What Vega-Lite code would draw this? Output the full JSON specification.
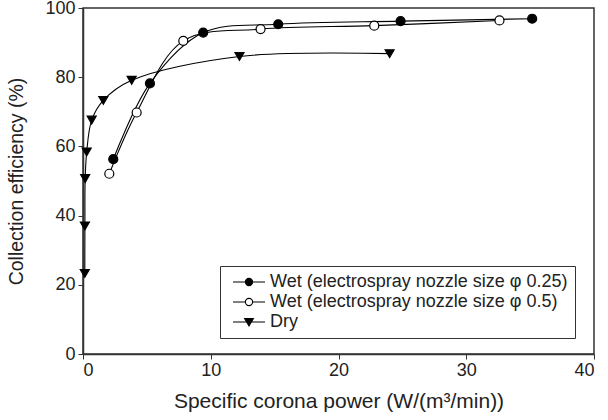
{
  "$schema": "https://vega.github.io/schema/vega-lite/v6.json",
  "width": 511,
  "height": 346,
  "autosize": {"type": "none"},
  "padding": {"left": 83, "top": 8, "right": 14, "bottom": 66},
  "background": "white",
  "config": {
    "font": "Liberation Sans",
    "view": {"stroke": "#333", "strokeWidth": 1.5},
    "axis": {
      "grid": false,
      "domainColor": "#333",
      "domainWidth": 1.5,
      "tickColor": "#333",
      "tickSize": 5,
      "labelFont": "Liberation Sans",
      "labelFontSize": 18,
      "labelColor": "#222",
      "titleFont": "Liberation Sans",
      "titleFontWeight": "normal",
      "titleColor": "#222"
    },
    "legend": {
      "orient": "none",
      "legendX": 137,
      "legendY": 258,
      "padding": 7,
      "strokeColor": "#333",
      "fillColor": "white",
      "cornerRadius": 0,
      "labelFont": "Liberation Sans",
      "labelFontSize": 18,
      "labelColor": "#222",
      "labelLimit": 450,
      "symbolSize": 64,
      "symbolStrokeWidth": 1.1,
      "symbolOffset": 13,
      "labelOffset": 12,
      "rowPadding": 2
    }
  },
  "data": {
    "values": [
      {"series": "Wet (electrospray nozzle size φ 0.25)", "i": 1, "x": 2.37, "y": 56.3},
      {"series": "Wet (electrospray nozzle size φ 0.25)", "i": 2, "x": 5.24, "y": 78.2},
      {"series": "Wet (electrospray nozzle size φ 0.25)", "i": 3, "x": 9.41, "y": 92.9},
      {"series": "Wet (electrospray nozzle size φ 0.25)", "i": 4, "x": 15.28, "y": 95.3},
      {"series": "Wet (electrospray nozzle size φ 0.25)", "i": 5, "x": 24.86, "y": 96.2},
      {"series": "Wet (electrospray nozzle size φ 0.25)", "i": 6, "x": 35.16, "y": 96.9},
      {"series": "Wet (electrospray nozzle size φ 0.5)", "i": 1, "x": 2.06, "y": 52.1},
      {"series": "Wet (electrospray nozzle size φ 0.5)", "i": 2, "x": 4.2, "y": 69.8},
      {"series": "Wet (electrospray nozzle size φ 0.5)", "i": 3, "x": 7.85, "y": 90.5},
      {"series": "Wet (electrospray nozzle size φ 0.5)", "i": 4, "x": 13.9, "y": 93.9},
      {"series": "Wet (electrospray nozzle size φ 0.5)", "i": 5, "x": 22.8, "y": 94.9},
      {"series": "Wet (electrospray nozzle size φ 0.5)", "i": 6, "x": 32.6, "y": 96.4},
      {"series": "Dry", "i": 1, "x": 0.14, "y": 23.3},
      {"series": "Dry", "i": 2, "x": 0.15, "y": 37.0},
      {"series": "Dry", "i": 3, "x": 0.17, "y": 50.7},
      {"series": "Dry", "i": 4, "x": 0.29, "y": 58.4},
      {"series": "Dry", "i": 5, "x": 0.68, "y": 67.6},
      {"series": "Dry", "i": 6, "x": 1.59, "y": 73.3},
      {"series": "Dry", "i": 7, "x": 3.81, "y": 79.1},
      {"series": "Dry", "i": 8, "x": 12.25, "y": 86.0},
      {"series": "Dry", "i": 9, "x": 24.0, "y": 86.8}
    ]
  },
  "encoding": {
    "x": {
      "field": "x",
      "type": "quantitative",
      "scale": {"domain": [0, 40], "nice": false},
      "axis": {"values": [0, 10, 20, 30, 40], "title": "Specific corona power (W/(m³/min))", "titleFontSize": 21, "titlePadding": 11, "labelPadding": 2}
    },
    "y": {
      "field": "y",
      "type": "quantitative",
      "scale": {"domain": [0, 100], "nice": false},
      "axis": {"values": [0, 20, 40, 60, 80, 100], "title": "Collection efficiency (%)", "titleFontSize": 19.5, "titlePadding": 18, "labelPadding": 3}
    }
  },
  "layer": [
    {
      "mark": {"type": "line", "interpolate": "catmull-rom", "color": "black", "strokeWidth": 1.1},
      "encoding": {
        "detail": {"field": "series"},
        "order": {"field": "i", "type": "quantitative"}
      }
    },
    {
      "mark": {"type": "point", "filled": true, "stroke": "black", "strokeWidth": 1.2, "opacity": 1},
      "encoding": {
        "shape": {
          "field": "series",
          "type": "nominal",
          "scale": {
            "domain": ["Wet (electrospray nozzle size φ 0.25)", "Wet (electrospray nozzle size φ 0.5)", "Dry"],
            "range": ["circle", "circle", "triangle-down"]
          },
          "legend": null
        },
        "fill": {
          "field": "series",
          "type": "nominal",
          "scale": {
            "domain": ["Wet (electrospray nozzle size φ 0.25)", "Wet (electrospray nozzle size φ 0.5)", "Dry"],
            "range": ["black", "white", "black"]
          },
          "legend": null
        },
        "size": {"value": 81}
      }
    },
    {
      "transform": [{"filter": "datum.i < 0"}],
      "mark": {"type": "point", "filled": true, "stroke": "black", "strokeWidth": 1.1, "opacity": 1, "size": 64},
      "encoding": {
        "shape": {
          "field": "series",
          "type": "nominal",
          "scale": {
            "domain": ["Wet (electrospray nozzle size φ 0.25)", "Wet (electrospray nozzle size φ 0.5)", "Dry"],
            "range": [
              "M-4,0H4M0.9,0A0.9,0.9 0 1 1 -0.9,0A0.9,0.9 0 1 1 0.9,0Z",
              "M-4,0H-0.9M0.9,0H4M0.9,0A0.9,0.9 0 1 1 -0.9,0A0.9,0.9 0 1 1 0.9,0Z",
              "M-4,0H4M-1.1,-0.85L1.1,-0.85L0,1Z"
            ]
          },
          "legend": {"title": null}
        },
        "fill": {
          "field": "series",
          "type": "nominal",
          "scale": {
            "domain": ["Wet (electrospray nozzle size φ 0.25)", "Wet (electrospray nozzle size φ 0.5)", "Dry"],
            "range": ["black", "white", "black"]
          },
          "legend": {"title": null}
        }
      }
    }
  ],
  "resolve": {"scale": {"shape": "independent", "fill": "independent"}}
}
